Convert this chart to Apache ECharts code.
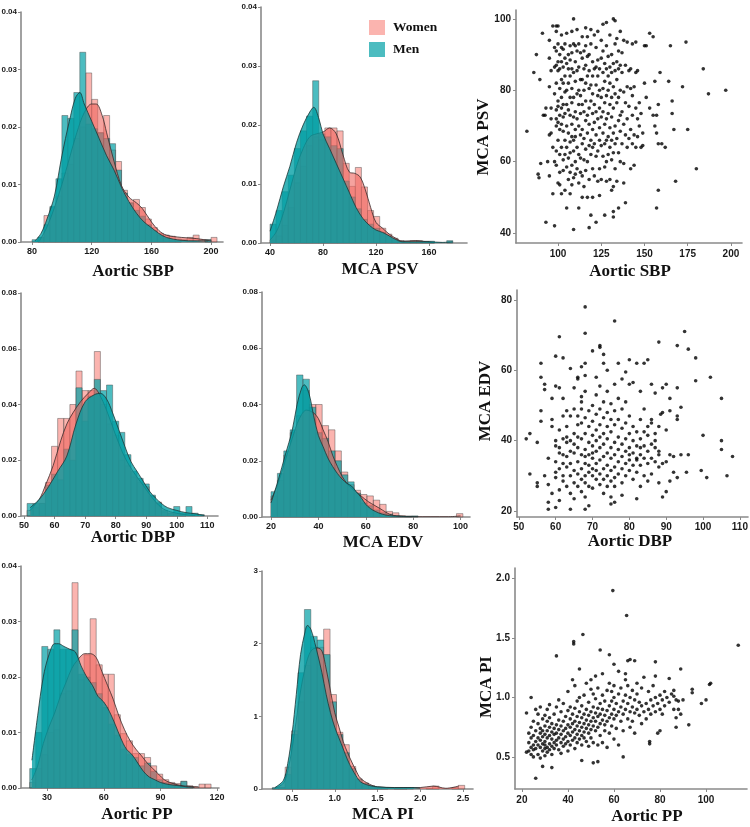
<!DOCTYPE html>
<html>
<head>
<meta charset="utf-8">
<script src="https://cdn.jsdelivr.net/npm/echarts@6/dist/echarts.min.js"></script>
<style>
  html, body { margin: 0; padding: 0; background: #fff; }
  #main { width: 750px; height: 827px; }
</style>
</head>
<body>
<div id="main"></div>
<script>
/*
 * 直方图: 起点, 组距, 各组密度 (女 / 男)
 */
var sbpStart = 80, sbpBin = 4;
var sbpWomen = [0, 0.0008, 0.0046, 0.006, 0.008, 0.012, 0.0135, 0.018, 0.02, 0.0294, 0.0248, 0.019, 0.022, 0.016, 0.014, 0.009, 0.0068, 0.0074, 0.006, 0.004, 0.0025, 0.0015, 0.0012, 0.001, 0.0005, 0.0004, 0.0008, 0.0012, 0.0004, 0.0004, 0.0008];
var sbpMen = [0.0004, 0.0008, 0.003, 0.0062, 0.011, 0.022, 0.0215, 0.026, 0.033, 0.0205, 0.0197, 0.019, 0.018, 0.0171, 0.0125, 0.0085, 0.0068, 0.0055, 0.0045, 0.003, 0.002, 0.0012, 0.0006, 0.0003, 0.0002, 0, 0, 0, 0, 0.0004, 0];

var psvStart = 40, psvBin = 4.6;
var psvWomen = [0.0005, 0.0012, 0.003, 0.006, 0.0102, 0.013, 0.0165, 0.018, 0.0175, 0.0195, 0.0195, 0.019, 0.0135, 0.0096, 0.0128, 0.0095, 0.0055, 0.0045, 0.0025, 0.0015, 0.0008, 0.0004, 0.0003, 0.0004, 0.0004, 0.0002, 0.0001, 0, 0, 0];
var psvMen = [0.0032, 0.0055, 0.0087, 0.0115, 0.016, 0.019, 0.0215, 0.0275, 0.0185, 0.018, 0.0165, 0.016, 0.0105, 0.0078, 0.0058, 0.004, 0.0032, 0.0025, 0.0018, 0.0012, 0.0006, 0.0003, 0.0002, 0.0002, 0.0003, 0.0003, 0.0003, 0, 0, 0.0004];

var dbpStart = 51, dbpBin = 2;
var dbpWomen = [0.002, 0.003, 0.0045, 0.012, 0.025, 0.035, 0.035, 0.04, 0.052, 0.045, 0.045, 0.059, 0.04, 0.033, 0.029, 0.02, 0.018, 0.014, 0.012, 0.0105, 0.007, 0.005, 0.0015, 0.001, 0.0005, 0.0005, 0, 0, 0];
var dbpMen = [0.0045, 0.0045, 0.0045, 0.011, 0.015, 0.013, 0.024, 0.02, 0.046, 0.034, 0.043, 0.049, 0.045, 0.047, 0.034, 0.03, 0.022, 0.016, 0.0135, 0.0115, 0.0075, 0.0045, 0.002, 0.001, 0.0034, 0.001, 0.0034, 0.001, 0.0005];

var edvStart = 20, edvBin = 2.7;
var edvWomen = [0.0075, 0.013, 0.022, 0.03, 0.036, 0.045, 0.04, 0.04, 0.0325, 0.031, 0.0235, 0.016, 0.0115, 0.0095, 0.008, 0.0075, 0.006, 0.0045, 0.002, 0.0015, 0.0005, 0.0003, 0, 0, 0, 0, 0, 0, 0, 0.0012];
var edvMen = [0.009, 0.0155, 0.0235, 0.031, 0.0505, 0.049, 0.039, 0.03, 0.028, 0.0235, 0.02, 0.015, 0.0125, 0.0085, 0.005, 0.004, 0.0025, 0.0015, 0.001, 0.0005, 0.0003, 0.0003, 0.0004, 0, 0, 0, 0, 0, 0, 0];

var ppStart = 20.8, ppBin = 3.2;
var ppWomen = [0.001, 0.0035, 0.006, 0.01, 0.0105, 0.017, 0.0175, 0.037, 0.0195, 0.024, 0.0305, 0.0222, 0.0205, 0.0205, 0.0132, 0.0098, 0.0085, 0.0062, 0.0062, 0.0055, 0.004, 0.0025, 0.0015, 0.001, 0.0008, 0.0012, 0.0004, 0.0002, 0.0007, 0.0007];
var ppMen = [0.0035, 0.01, 0.0255, 0.025, 0.0285, 0.025, 0.025, 0.0285, 0.0205, 0.02, 0.019, 0.017, 0.0145, 0.0115, 0.0095, 0.007, 0.006, 0.0055, 0.004, 0.0045, 0.003, 0.0015, 0.001, 0.0008, 0.0005, 0.0012, 0.0003, 0, 0, 0];

var piStart = 0.27, piBin = 0.075;
var piWomen = [0.01, 0.02, 0.3, 0.8, 1.2, 1.7, 1.95, 1.95, 2.2, 1.3, 0.78, 0.61, 0.31, 0.13, 0.08, 0.04, 0.02, 0.01, 0, 0.01, 0.02, 0, 0, 0, 0.01, 0.04, 0, 0, 0.02, 0.05];
var piMen = [0.02, 0.02, 0.2, 0.75, 1.6, 2.47, 2.1, 2.05, 1.85, 1.2, 0.75, 0.5, 0.28, 0.14, 0.08, 0.04, 0.02, 0.02, 0.02, 0.01, 0.01, 0.02, 0, 0, 0, 0, 0, 0, 0, 0];

/*
 * 密度曲线 [x, 密度]
 */
var sbpWomenDens = [[85,0.0002],[90,0.0026],[95,0.006],[100,0.01],[105,0.0145],[110,0.019],[115,0.0225],[120,0.024],[123,0.024],[127,0.022],[130,0.019],[135,0.014],[140,0.0098],[145,0.0078],[150,0.0068],[154,0.0058],[160,0.0035],[165,0.002],[170,0.0012],[180,0.0008],[190,0.0006],[200,0.0002]];
var sbpMenDens = [[82,0.0002],[86,0.0015],[90,0.004],[95,0.008],[100,0.015],[105,0.021],[109,0.025],[112,0.026],[115,0.024],[120,0.021],[125,0.018],[130,0.015],[135,0.0125],[140,0.0095],[145,0.007],[150,0.005],[155,0.0035],[160,0.0025],[165,0.0015],[170,0.0008],[180,0.0003],[190,0.0002],[198,0.0002]];

var psvWomenDens = [[40,0.0005],[45,0.002],[50,0.005],[55,0.009],[60,0.013],[65,0.016],[70,0.018],[75,0.0185],[80,0.0188],[85,0.0195],[90,0.0185],[95,0.015],[100,0.012],[104,0.0118],[108,0.0112],[112,0.009],[116,0.006],[120,0.0035],[125,0.0025],[130,0.0015],[135,0.0008],[140,0.0003],[150,0.0004],[155,0.0003],[162,0.0001]];
var psvMenDens = [[40,0.002],[45,0.0055],[50,0.0095],[55,0.013],[60,0.017],[65,0.02],[70,0.0222],[73,0.023],[77,0.021],[80,0.0185],[85,0.016],[90,0.0135],[95,0.011],[100,0.0085],[105,0.006],[110,0.0042],[115,0.003],[120,0.0022],[125,0.0018],[130,0.0012],[135,0.0006],[140,0.0002],[150,0.0002],[160,0.0002],[170,0.0001],[178,0.0002]];

var dbpWomenDens = [[52,0.002],[55,0.006],[57,0.011],[59.5,0.018],[62,0.027],[64,0.033],[66,0.037],[68.5,0.041],[71,0.044],[73,0.0458],[74.5,0.044],[77,0.038],[80,0.029],[83,0.021],[86,0.0155],[89,0.011],[92,0.0065],[95,0.003],[98,0.0015],[102,0.0006],[106,0.0002]];
var dbpMenDens = [[52,0.003],[55,0.006],[58,0.0105],[61,0.016],[64,0.0215],[67,0.033],[70,0.041],[73,0.0435],[75,0.044],[77,0.042],[79,0.037],[81,0.031],[83,0.025],[85,0.0195],[87,0.016],[89,0.0125],[91,0.009],[93,0.0065],[95,0.0045],[97,0.003],[100,0.002],[103,0.0012],[106,0.0008],[109,0.0002]];

var edvWomenDens = [[20,0.006],[23,0.012],[26,0.02],[29,0.028],[32,0.035],[35,0.038],[38,0.037],[40,0.035],[42,0.031],[44,0.027],[46,0.022],[48,0.018],[50,0.0145],[52,0.012],[55,0.0095],[58,0.0075],[61,0.0055],[64,0.004],[67,0.0025],[70,0.001],[73,0.0004],[80,0.0001],[95,0.0001],[100,0.0004]];
var edvMenDens = [[20,0.005],[23,0.013],[26,0.022],[29,0.031],[31,0.04],[33,0.046],[34,0.047],[36,0.044],[38,0.036],[40,0.029],[42,0.025],[44,0.021],[46,0.018],[48,0.0155],[50,0.0135],[52,0.012],[54,0.011],[56,0.009],[58,0.007],[60,0.0045],[62,0.003],[64,0.002],[67,0.001],[70,0.0005],[75,0.0002],[82,0.0001]];

var ppWomenDens = [[22,0.0015],[25,0.004],[28,0.008],[31,0.011],[34,0.0135],[37,0.0165],[40,0.019],[43,0.0215],[46,0.023],[50,0.0242],[53,0.0242],[56,0.0235],[59,0.021],[62,0.0185],[65,0.016],[68,0.013],[71,0.0105],[74,0.0085],[77,0.007],[80,0.0058],[83,0.0045],[86,0.0035],[89,0.0025],[92,0.0015],[95,0.001],[100,0.0005],[105,0.0003],[110,0.0002]];
var ppMenDens = [[22,0.005],[25,0.013],[28,0.02],[31,0.024],[34,0.026],[36,0.026],[39,0.0255],[42,0.025],[45,0.0245],[48,0.022],[51,0.02],[54,0.0185],[57,0.0165],[60,0.0155],[63,0.0138],[66,0.0115],[69,0.009],[72,0.007],[75,0.006],[78,0.0045],[81,0.003],[84,0.002],[87,0.0015],[90,0.001],[95,0.0006],[100,0.0004],[104,0.0002],[108,0.0001]];

var piWomenDens = [[0.3,0.01],[0.4,0.08],[0.45,0.25],[0.5,0.55],[0.55,0.95],[0.6,1.35],[0.65,1.65],[0.7,1.85],[0.75,1.93],[0.8,1.94],[0.85,1.9],[0.9,1.65],[0.95,1.35],[1.0,1.05],[1.05,0.85],[1.1,0.65],[1.15,0.5],[1.2,0.37],[1.25,0.25],[1.3,0.15],[1.4,0.07],[1.5,0.03],[1.7,0.02],[2.0,0.02],[2.15,0.04],[2.3,0.01],[2.45,0.04]];
var piMenDens = [[0.3,0.02],[0.4,0.12],[0.45,0.35],[0.5,0.75],[0.55,1.3],[0.6,1.85],[0.65,2.15],[0.68,2.25],[0.72,2.2],[0.78,1.95],[0.85,1.6],[0.9,1.3],[0.95,1.05],[1.0,0.85],[1.05,0.7],[1.1,0.55],[1.15,0.4],[1.2,0.28],[1.25,0.18],[1.3,0.1],[1.4,0.05],[1.5,0.03],[1.7,0.02],[1.9,0.02],[2.0,0.01]];

/*
 * 散点图 [x, y]
 */
var sbpPsv = [
[82,68.5],[86,85],[87.5,90],[88.5,56.5],[89,55.5],[89.5,83],[90,59.5],[91,96],[91.5,73],[92.5,73],[93,75],[93,43],[94,60],[95,94],[95,89],[95,81],[95,67.5],[95,56],[96,85.5],[96,75],[96,72],[96,68],[97,98],[97,64],[97,51],[98,42],[98,92],[98,86.5],[98,79],[98,60],
[99,98],[99,96.5],[99,91],[99,87],[99,82],[99,74.5],[99,72],[99,70],[99,63],[99,59],[100,98],[100,93],[100,88],[100,85.5],[100,77],[100,75.5],[100,71],[100,66],[100,54],[101,90],[101,86],[101,80.5],[101,73],[101,69],[101,62],[101,57],[101,53.5],[102,95.5],[102,92],[102,88],[102,83],[102,78],[102,75],[102,70.5],[102,64],[102,51],[103,91.5],[103,86.5],[103,82],[103,76],[103,72.5],[103,68.5],[103,60.5],[103,57.5],[104,93],[104,89],[104,84],[104,79.5],[104,73.5],[104,66],[104,62],[104,52],[105,96],[105,87.5],[105,80],[105,76],[105,70],[105,64],[105,58.5],[105,47],
[106,90],[106,86],[106,82],[106,74.5],[106,68],[106,61],[106,55],[107,92.5],[107,88.5],[107,84],[107,78],[107,73],[107,65.5],[107,62.5],[107,57],[107,51],[108,96.5],[108,90.5],[108,86],[108,80.5],[108,76.5],[108,70.5],[108,67],[108,59],[108,53.5],[109,100],[109,93],[109,85],[109,78],[109,72.5],[109,66],[109,63],[109,55.5],[109,41],[110,92.5],[110,88],[110,82.5],[110,74],[110,69],[110,67],[110,60],[110,56.5],[111,97],[111,91],[111,85.5],[111,79],[111,72],[111,64],[111,58],[112,93],[112,86.5],[112,80],[112,76],[112,70],[112,62],[112,47],[112,54],
[113,90.5],[113,83],[113,78.5],[113,73.5],[113,67.5],[113,61],[113,57],[114,95],[114,89],[114,83],[114,76],[114,69],[114,65],[114,56],[114,50],[115,91],[115,86],[115,80],[115,74],[115,66.5],[115,60.5],[115,53],[116,97.5],[116,92.5],[116,87],[116,82],[116,77],[116,71.5],[116,63.5],[116,57.5],[117,95],[117,89.5],[117,84],[117,73],[117,68],[117,60],[117,50],[118,90],[118,85.5],[118,80.5],[118,75],[118,70.5],[118,64.5],[118,55],[118,41.5],[119,97],[119,93],[119,81.5],[119,77],[119,66],[119,62],[119,45],[120,88],[120,84],[120,79],[120,73.5],[120,69],[120,64],[120,58],[120,50],
[121,95.5],[121,86],[121,76],[121,71],[121,65],[121,56],[122,92],[122,86.5],[122,81.5],[122,74],[122,67.5],[122,61.5],[122,43],[123,96.5],[123,88.5],[123,84],[123,78.5],[123,72],[123,63],[123,54.5],[124,86],[124,80],[124,75],[124,69.5],[124,66],[124,58],[124,50.5],[125,94],[125,89],[125,78],[125,72.5],[125,64.5],[125,55],[126,98.5],[126,91],[126,85],[126,80.5],[126,74],[126,68],[126,61.5],[127,87.5],[127,82.5],[127,76.5],[127,70.5],[127,65],[127,58.5],[127,45],[128,99],[128,92.5],[128,86],[128,78.5],[128,72],[128,66],[128,60],[128,54.5],
[129,89.5],[129,84],[129,80],[129,73.5],[129,67],[129,62],[130,95.5],[130,86.5],[130,82],[130,76],[130,69.5],[130,64],[130,55],[131,90],[131,85],[131,78],[131,72.5],[131,66],[131,60.5],[131,52],[132,100],[132,87.5],[132,81],[132,75],[132,68],[132,62.5],[132,53],[132,46],[132,44.5],[133,99.5],[133,93],[133,85.5],[133,79],[133,70],[133,65],[133,58],[134,94.5],[134,88],[134,83],[134,76.5],[134,66.5],[134,54.5],[135,91],[135,86],[135,78],[135,71.5],[135,62.5],[135,47],[136,96.5],[136,87],[136,80],[136,73],[136,68.5],[136,60],
[137,90.5],[137,85],[137,74],[137,65],[138,94],[138,79.5],[138,70.5],[138,59.5],[138,54],[139,87],[139,76.5],[139,67.5],[139,48.5],[140,93.5],[140,81],[140,72],[140,64],[141,85.5],[141,75.5],[141,66.5],[142,86],[142,80.5],[142,69],[142,58],[143,93],[143,78.5],[143,73],[143,65],[144,81],[144,67.5],[144,59],[145,93.5],[145,85],[145,75],[145,64],[146,85.5],[146,72],[146,67],[147,76.5],[147,70],[148,73.5],[148,64],[149,68],[149,64.5],[150,92.5],[150,82],[151,92.5],[151,78],[153,96],[153,75],
[155,95],[155,73],[156,82.5],[156,70],[157,73],[157,68],[157,47],[158,76],[158,65],[158,52],[159,85],[160,65],[162,64],[164,82.5],[165,92.5],[166,77],[166,73.5],[167,69],[168,54.5],[172,81],[174,93.5],[175,69],[180,58],[184,86],[187,79],[197,80]
];

var dbpEdv = [
[52,40.5],[53,42],[53,30.5],[55,39.5],[55,28],[55,27],[56,62],[56,58],[56,48.5],[56,45.5],[57,56],[57,54.5],[57,30],[58,20.5],[58,22.5],[58,27.5],[58,35],[59,44],[59,46],[59,52],[59,25],[60,64],[60,55.5],[60,21],[61,69.5],[61,55],[61,23],[62,63.5],[62,52],[62,47],[63,48.5],[64,60.5],[64,20.5],[65,55],[66,57.5],[66,58],[67,61],[67,51],[68,78],[68,70.5],[68,62],[68,58.5],[68,20.5],[69,21.5],[70,65.5],[71,58],[72,67],[72,66.5],[73,64.5],[73,62],[74,60],[75,22],[76,74],[76,56],[77,62],[78,57.5],[79,59.5],[80,63],[81,56.5],[82,62],[83,54],[84,62],[85,63],[86,56],[88,68],[89,55],[90,56],[91,52],[93,67],[93,55],[93,47],[93,46],[94,49.5],[95,71],[96,66],[98,63.5],[98,57],[102,58],[105,52],[105,40],[105,37.5],[108,35.5],[106.5,30],[101,29.5],[99.5,31.5],[100,41.5],[96,36],[95.5,31],[93,29.5],[92,31],[91,28.5],[90,25.5],[89,24],[94,36],[92,35.5],[91,36],[90,34],[89,33.5],[88.5,47.5],[89,48],[91,48.5],[90,43],[88,37],[87,40],[86,45],[85,44],[84,42.5],[83,38],[82,35],
[60,38.5],[60,34],[60,31],[60,29.5],[60,40],[61,32],[61,36.5],[61,43],[61,38],[61,26],[62,33.5],[62,28.5],[62,40.5],[62,36],[62,30],[63,35.5],[63,41],[63,39.5],[63,27],[63,32.5],[63,44],[64,33.5],[64,40],[64,37],[64,30],[64,25],[64,47],[65,36.5],[65,42],[65,31.5],[65,28],[65,39],[65,49],[65,23.5],
[66,34],[66,38],[66,44.5],[66,30.5],[66,27],[66,47],[66,41],[67,32],[67,36],[67,40.5],[67,29],[67,45],[67,49],[67,25.5],[67,52.5],[68,33.5],[68,37.5],[68,30],[68,42],[68,46.5],[68,28],[68,35.5],[68,54],[68,24],[69,31],[69,36],[69,39.5],[69,44],[69,48.5],[69,27],[69,33],[70,32],[70,35],[70,38.5],[70,41.5],[70,45.5],[70,30],[70,50],[70,26.5],[70,36.5],
[71,33.5],[71,37],[71,40],[71,43],[71,47.5],[71,29],[71,31.5],[71,53],[72,34.5],[72,38],[72,44.5],[72,30.5],[72,27.5],[72,41],[72,49],[72,55.5],[73,32],[73,35.5],[73,39],[73,42],[73,46.5],[73,29],[73,25],[73,51],[74,33],[74,36.5],[74,40.5],[74,44],[74,30],[74,27],[74,48],[74,54],[75,31.5],[75,35],[75,38],[75,42.5],[75,46],[75,28.5],[75,24],[75,50.5],
[76,32.5],[76,36],[76,39.5],[76,44.5],[76,29.5],[76,27],[76,48.5],[76,22.5],[77,34],[77,37.5],[77,41],[77,46],[77,30.5],[77,52],[78,32],[78,35.5],[78,39],[78,43.5],[78,28],[78,49],[78,24.5],[79,33.5],[79,37],[79,40.5],[79,30],[79,45],[79,51],[80,34.5],[80,38],[80,42],[80,31.5],[80,36],[80,47],[80,56],
[81,33],[81,36.5],[81,40],[81,44],[81,29],[82,34.5],[82,38.5],[82,42.5],[82,31],[82,23.5],[83,36],[83,40.5],[83,33],[83,46],[83,27],[84,35],[84,38.5],[84,30],[84,49],[85,33.5],[85,37],[85,41.5],[85,28.5],[86,35],[86,39],[86,46],[86,30.5],[87,34],[87,38],[87,42],[87,53.5],[88,32.5],[88,36],[88,44],[88,28]
];

var ppPi = [
[26,0.32],[29,0.42],[33,0.41],[24,1.0],[22,0.87],[35,1.35],[42.5,1.47],[42.5,1.45],[46.5,1.53],[54,1.4],[59.5,1.9],[65.5,1.69],[58,1.36],[60,1.28],[62,1.22],[66,1.31],[67,1.32],[69,1.31],[78,1.3],[89,1.24],[114,1.44],[101.5,1.11],[102,1.12],[100,0.98],[98,0.95],[94,1.07],[94,1.04],[92.5,0.77],[90,0.98],[87,0.83],[87,0.75],[87,0.98],[88,0.9],[86,1.01],[86,1.06],[84,1.16],[80,0.72],[79,0.7],[75.5,0.63],[75.5,0.61],[64,0.5],[51,0.45],[53,0.46],[46,0.47],[25,0.5],[23,0.55],[22,0.54],[24,0.58],
[23,0.62],[23,0.7],[24,0.66],[24,0.75],[24,0.52],[25,0.6],[25,0.68],[25,0.8],[25,0.56],[26,0.63],[26,0.72],[26,0.57],[26,0.9],[27,0.6],[27,0.66],[27,0.78],[27,0.52],[27,0.86],[28,0.58],[28,0.64],[28,0.7],[28,0.74],[28,0.92],[28,0.49],[29,0.61],[29,0.67],[29,0.55],[29,0.82],[29,0.72],[30,0.57],[30,0.63],[30,0.69],[30,0.76],[30,0.85],[30,0.51],[30,0.6],
[31,0.58],[31,0.66],[31,0.72],[31,0.8],[31,0.54],[31,0.9],[32,0.61],[32,0.68],[32,0.75],[32,0.56],[32,0.83],[32,0.94],[33,0.59],[33,0.65],[33,0.71],[33,0.78],[33,0.52],[34,0.62],[34,0.69],[34,0.74],[34,0.86],[34,0.57],[35,0.64],[35,0.7],[35,0.77],[35,0.6],[35,0.92],[36,0.66],[36,0.73],[36,0.81],[36,0.56],[36,0.98],[37,0.62],[37,0.69],[37,0.76],[37,0.88],[37,0.53],[38,0.65],[38,0.72],[38,0.8],[38,0.59],[38,0.95],[39,0.67],[39,0.74],[39,0.84],[39,0.61],[40,0.7],[40,0.77],[40,0.63],[40,0.89],[40,0.55],[40,1.05],
[41,0.68],[41,0.75],[41,0.82],[41,0.92],[41,0.6],[42,0.71],[42,0.78],[42,0.86],[42,1.15],[42,0.64],[43,0.66],[43,0.73],[43,0.8],[43,0.91],[43,1.1],[43,0.57],[44,0.69],[44,0.76],[44,0.84],[44,0.97],[44,0.62],[45,0.72],[45,0.79],[45,0.88],[45,1.0],[45,0.65],[45,1.24],[46,0.68],[46,0.75],[46,0.83],[46,0.93],[46,0.6],[47,0.71],[47,0.78],[47,0.86],[47,1.02],[47,0.66],[48,0.74],[48,0.81],[48,0.9],[48,1.12],[48,0.63],[49,0.7],[49,0.77],[49,0.85],[49,0.96],[49,0.59],[50,0.73],[50,0.8],[50,0.88],[50,1.07],[50,0.66],[50,1.15],
[51,0.76],[51,0.83],[51,0.92],[51,0.62],[51,1.03],[52,0.72],[52,0.8],[52,0.87],[52,0.99],[52,1.18],[53,0.75],[53,0.84],[53,0.91],[53,0.6],[53,1.08],[54,0.78],[54,0.86],[54,0.95],[54,0.68],[55,0.81],[55,0.9],[55,1.02],[55,0.62],[55,1.2],[56,0.77],[56,0.85],[56,0.97],[56,0.72],[57,0.8],[57,0.89],[57,1.06],[57,0.58],[58,0.83],[58,0.93],[58,1.12],[58,0.7],[59,0.86],[59,0.97],[59,0.76],[59,1.05],[60,0.82],[60,0.9],[60,1.0],[60,0.65],[60,1.1],
[61,0.85],[61,0.95],[61,0.74],[62,0.88],[62,1.03],[62,0.6],[63,0.8],[63,0.92],[63,1.08],[64,0.86],[64,0.97],[64,0.72],[65,0.9],[65,1.02],[65,1.15],[65,1.2],[66,0.82],[66,0.95],[66,1.1],[67,0.88],[67,1.0],[67,0.75],[68,0.92],[68,1.06],[68,0.8],[69,0.87],[69,0.98],[69,0.7],[70,0.9],[70,1.03],[70,1.12],[71,0.85],[71,0.96],[72,0.93],[72,1.08],[72,0.78],[73,0.88],[73,1.17],[74,0.95],[74,0.82],[75,0.9],[75,1.05],
[76,0.86],[76,0.98],[77,0.93],[77,1.1],[78,0.88],[78,1.0],[78,1.18],[79,0.95],[80,0.9],[80,1.02],[81,0.86],[81,0.98],[82,0.93],[82,1.05],[83,1.0],[84,0.96],[85,1.03],[86,0.9],[88,0.97],[89,0.86]
];

// 坐标轴刻度
var sbpTicks = [80, 120, 160, 200];
var psvTicks = [40, 80, 120, 160];
var dbpTicks = [50, 60, 70, 80, 90, 100, 110];
var edvTicks = [20, 40, 60, 80, 100];
var ppTicks = [30, 60, 90, 120];
var piTicks = [0.5, 1.0, 1.5, 2.0, 2.5];
var dens4Ticks = [0, 0.01, 0.02, 0.03, 0.04];
var dens8Ticks = [0, 0.02, 0.04, 0.06, 0.08];
var piDensTicks = [0, 1, 2, 3];
var scSbpTicks = [100, 125, 150, 175, 200];
var scPsvTicks = [40, 60, 80, 100];
var scDbpTicks = [50, 60, 70, 80, 90, 100, 110];
var scEdvTicks = [20, 40, 60, 80];
var scPpTicks = [20, 40, 60, 80, 100];
var scPiTicks = [0.5, 1.0, 1.5, 2.0];

// 颜色
var WOMEN_BAR = 'rgba(248,118,109,0.55)';
var MEN_BAR = 'rgba(0,160,165,0.7)';
var WOMEN_AREA = 'rgba(238,100,94,0.6)';
var MEN_AREA = 'rgba(0,158,163,0.78)';

var grids = [
  { left: 21, top: 12, width: 202, height: 230 },
  { left: 261, top: 7, width: 206, height: 236 },
  { left: 516, top: 10, width: 226, height: 233 },
  { left: 21, top: 293, width: 197, height: 223 },
  { left: 262, top: 292, width: 208, height: 225 },
  { left: 517, top: 290, width: 231, height: 227 },
  { left: 21, top: 566, width: 198, height: 222 },
  { left: 262, top: 571, width: 211, height: 218 },
  { left: 515, top: 568, width: 232, height: 221 }
];

function histData(start, bin, heights) {
  var out = [];
  for (var i = 0; i < heights.length; i++) {
    if (heights[i] > 0) {
      out.push([start + i * bin, start + (i + 1) * bin, heights[i]]);
    }
  }
  return out;
}

function renderBar(params, api) {
  var p0 = api.coord([api.value(0), api.value(2)]);
  var p1 = api.coord([api.value(1), 0]);
  return {
    type: 'rect',
    shape: { x: p0[0], y: p0[1], width: p1[0] - p0[0], height: p1[1] - p0[1] },
    style: { fill: api.visual('color'), stroke: 'rgba(70,70,70,0.55)', lineWidth: 0.8 }
  };
}

function axis(gi, min, max, ticks, digits, size, margin) {
  return {
    type: 'value', gridIndex: gi, min: min, max: max,
    splitLine: { show: false },
    axisLine: { show: true, onZero: false, lineStyle: { color: '#8a8a8a', width: 1.6 } },
    axisTick: { show: true, length: 3, customValues: ticks, lineStyle: { color: '#8a8a8a' } },
    axisLabel: {
      customValues: ticks, margin: margin, color: '#1a1a1a', fontWeight: 'bold',
      fontFamily: 'Liberation Sans', fontSize: size,
      formatter: function (v) { return v.toFixed(digits); }
    }
  };
}

function histSeries(gi, start, bin, women, men, wDens, mDens) {
  return [
    { name: 'Women', type: 'custom', xAxisIndex: gi, yAxisIndex: gi, renderItem: renderBar,
      itemStyle: { color: WOMEN_BAR }, encode: { x: [0, 1], y: 2 }, z: 2,
      data: histData(start, bin, women) },
    { name: 'Men', type: 'custom', xAxisIndex: gi, yAxisIndex: gi, renderItem: renderBar,
      itemStyle: { color: MEN_BAR }, encode: { x: [0, 1], y: 2 }, z: 3,
      data: histData(start, bin, men) },
    { name: 'Women density', type: 'line', xAxisIndex: gi, yAxisIndex: gi, smooth: 0.35,
      symbol: 'none', z: 4, lineStyle: { color: '#3a2a2a', width: 0.8 },
      areaStyle: { color: WOMEN_AREA, opacity: 1 }, data: wDens },
    { name: 'Men density', type: 'line', xAxisIndex: gi, yAxisIndex: gi, smooth: 0.35,
      symbol: 'none', z: 5, lineStyle: { color: '#1d3535', width: 0.8 },
      areaStyle: { color: MEN_AREA, opacity: 1 }, data: mDens }
  ];
}

function scatterSeries(gi, data) {
  return { name: 'points' + gi, type: 'scatter', xAxisIndex: gi, yAxisIndex: gi,
    symbolSize: 3.6, itemStyle: { color: '#000' }, data: data };
}

function title(text, x, y, rotate) {
  return {
    type: 'text', x: x, y: y, rotation: rotate ? Math.PI / 2 : 0,
    style: { text: text, align: 'center', verticalAlign: 'middle', fill: '#111',
      font: 'bold 17px "Liberation Serif"' }
  };
}

var xAxes = [
  axis(0, 72.6, 208, sbpTicks, 0, 9, 5),
  axis(1, 33.2, 188.7, psvTicks, 0, 9, 5),
  axis(2, 75.7, 206.4, scSbpTicks, 0, 10, 6),
  axis(3, 49, 113.5, dbpTicks, 0, 9, 5),
  axis(4, 16.2, 104, edvTicks, 0, 9, 5),
  axis(5, 49.5, 112.2, scDbpTicks, 0, 10, 5),
  axis(6, 16.2, 121, ppTicks, 0, 9, 5),
  axis(7, 0.149, 2.617, piTicks, 1, 9, 5),
  axis(8, 17, 117.8, scPpTicks, 0, 10, 6)
];
var yAxes = [
  axis(0, 0, 0.04, dens4Ticks, 2, 8, 4),
  axis(1, 0, 0.04, dens4Ticks, 2, 8, 4),
  axis(2, 37.2, 102.5, scPsvTicks, 0, 10, 5),
  axis(3, 0, 0.08, dens8Ticks, 2, 8, 4),
  axis(4, 0, 0.08, dens8Ticks, 2, 8, 4),
  axis(5, 18.3, 82.8, scEdvTicks, 0, 10, 5),
  axis(6, 0, 0.04, dens4Ticks, 2, 8, 4),
  axis(7, 0, 3, piDensTicks, 0, 8, 4),
  axis(8, 0.23, 2.09, scPiTicks, 1, 10, 5)
];

var series = []
  .concat(histSeries(0, sbpStart, sbpBin, sbpWomen, sbpMen, sbpWomenDens, sbpMenDens))
  .concat(histSeries(1, psvStart, psvBin, psvWomen, psvMen, psvWomenDens, psvMenDens))
  .concat(histSeries(3, dbpStart, dbpBin, dbpWomen, dbpMen, dbpWomenDens, dbpMenDens))
  .concat(histSeries(4, edvStart, edvBin, edvWomen, edvMen, edvWomenDens, edvMenDens))
  .concat(histSeries(6, ppStart, ppBin, ppWomen, ppMen, ppWomenDens, ppMenDens))
  .concat(histSeries(7, piStart, piBin, piWomen, piMen, piWomenDens, piMenDens));
series.push(scatterSeries(2, sbpPsv));
series.push(scatterSeries(5, dbpEdv));
series.push(scatterSeries(8, ppPi));

var chart = echarts.init(document.getElementById('main'), null, { renderer: 'canvas' });
var option = {
  animation: false,
  backgroundColor: '#fff',
  grid: grids.map(function (g) {
    g.outerBoundsMode = 'none';
    return g;
  }),
  xAxis: xAxes,
  yAxis: yAxes,
  legend: {
    data: ['Women', 'Men'],
    orient: 'vertical', left: 364, top: 15,
    itemWidth: 16, itemHeight: 15, itemGap: 7,
    icon: 'rect', itemStyle: { borderWidth: 0 },
    textStyle: { fontFamily: 'Liberation Serif', fontWeight: 'bold', fontSize: 13.5, color: '#111', padding: [0, 0, 0, 3] }
  },
  graphic: [
    title('Aortic SBP', 133, 272),
    title('MCA PSV', 380, 270),
    title('Aortic SBP', 630, 272),
    title('Aortic DBP', 133, 538),
    title('MCA EDV', 383, 543),
    title('Aortic DBP', 630, 542),
    title('Aortic PP', 137, 815),
    title('MCA PI', 383, 815),
    title('Aortic PP', 647, 817),
    title('MCA PSV', 484, 137, true),
    title('MCA EDV', 486, 401, true),
    title('MCA PI', 487, 687, true)
  ],
  series: series
};
chart.setOption(option);
</script>
</body>
</html>
